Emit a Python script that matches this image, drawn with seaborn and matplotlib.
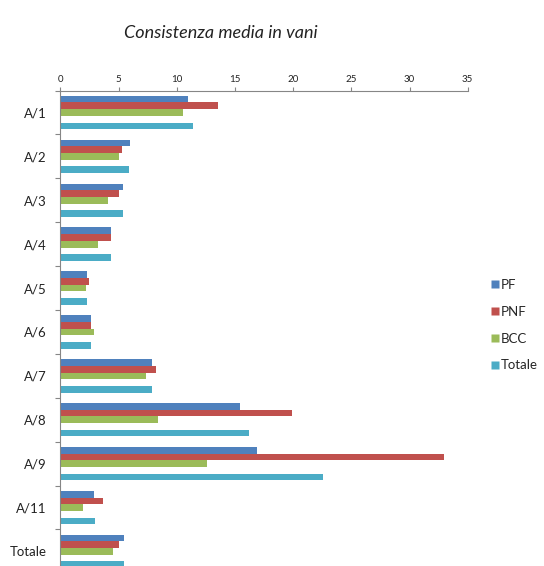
import numpy as np
import pandas as pd
import matplotlib
matplotlib.use("Agg")
import matplotlib.pyplot as plt
from matplotlib.lines import Line2D
import seaborn as sns

categories = ["A/1", "A/2", "A/3", "A/4", "A/5", "A/6", "A/7", "A/8", "A/9", "A/11", "Totale"]
pf = [11.0, 5.95, 5.37, 4.34, 2.3, 2.6, 7.87, 15.4, 16.9, 2.85, 5.5]
pnf = [13.5, 5.3, 5.0, 4.34, 2.42, 2.6, 8.24, 19.9, 32.95, 3.66, 5.03]
bcc = [10.5, 5.06, 4.08, 3.2, 2.17, 2.88, 7.35, 8.36, 12.6, 1.96, 4.52]
totale = [11.4, 5.9, 5.35, 4.34, 2.3, 2.6, 7.87, 16.2, 22.55, 3.0, 5.45]
series = ["PF", "PNF", "BCC", "Totale"]
colors = ["#4F81BD", "#C0504D", "#9BBB59", "#4BACC6"]
x_ticks = [0, 5, 10, 15, 20, 25, 30, 35]

# long-form table; an empty slot separates BCC from Totale inside each group
frames = []
for name, vals in zip(series, [pf, pnf, bcc, totale]):
    frames.append(pd.DataFrame({"cat": categories, "serie": name, "val": vals}))
df = pd.concat(frames, ignore_index=True)
hue_order = ["PF", "PNF", "BCC", "_gap", "Totale"]
palette = {"PF": colors[0], "PNF": colors[1], "BCC": colors[2], "_gap": "white", "Totale": colors[3]}

sns.set_theme(style="white")
plt.rcParams["font.family"] = ["Lato", "DejaVu Sans"]

fig = plt.figure(figsize=(5.44, 5.66), dpi=100)
# the last group runs slightly past the bottom edge of the figure
ax = fig.add_axes([0.1112, -0.013, 0.7485, 0.853])

sns.barplot(data=df, x="val", y="cat", hue="serie", hue_order=hue_order,
            order=categories, palette=palette, orient="h", width=0.76,
            legend=False, ax=ax, saturation=1, linewidth=0, errorbar=None)

n = len(categories)
ax.set_xlim(0, 35)
ax.set_ylim(n - 0.5, -0.5)
ax.xaxis.tick_top()
ax.set_xticks(x_ticks)
ax.set_xticklabels([str(t) for t in x_ticks], fontsize=7, color="#222222")
ax.tick_params(axis="x", direction="out", length=3, width=0.8, color="#868686", pad=2)

ax.set_yticks(np.arange(-0.5, n, 1.0))
ax.set_yticklabels([""] * (n + 1))
ax.set_yticks(np.arange(n), minor=True)
ax.set_yticklabels(categories, minor=True, fontsize=9.5, color="#222222")
ax.tick_params(axis="y", which="major", direction="out", length=3.5, width=0.8, color="#868686", left=True)
ax.tick_params(axis="y", which="minor", length=0, pad=10)

ax.set_xlabel("")
ax.set_ylabel("")
for side in ["right", "bottom"]:
    ax.spines[side].set_visible(False)
for side in ["top", "left"]:
    ax.spines[side].set_color("#868686")
    ax.spines[side].set_linewidth(0.8)

fig.text(0.405, 0.942, "Consistenza media in vani", ha="center", va="center",
         fontsize=13, style="italic", color="#222222")

handles = [Line2D([0], [0], marker="s", linestyle="none", markersize=5.8,
                  markerfacecolor=c, markeredgecolor="none", label=s)
           for s, c in zip(series, colors)]
fig.legend(handles=handles, loc="upper left", bbox_to_anchor=(0.902, 0.507),
           frameon=False, fontsize=9.5, handlelength=0.6,
           handletextpad=0.2, labelspacing=1.12, borderaxespad=0, borderpad=0)

fig.savefig("out.png", dpi=100)
